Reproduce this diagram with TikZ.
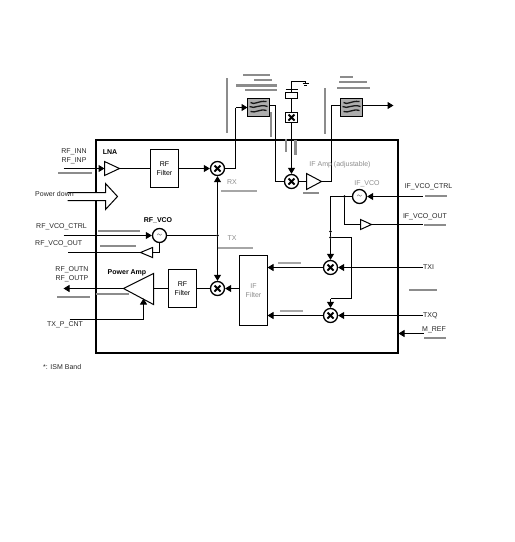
\documentclass[tikz,border=0pt]{standalone}
\usepackage{fontspec}
\setmainfont{Liberation Sans}
\usetikzlibrary{arrows.meta,calc}
\definecolor{barc}{gray}{0.55}
\definecolor{gtext}{gray}{0.55}
\newcommand{\gb}[4][barc]{\fill[#1] (#2,#4-1.2) rectangle (#3,#4+1.2);}
\newcommand{\gv}[4][barc]{\fill[#1] (#2-1.3,#3) rectangle (#2+1.3,#4);}
\tikzset{
 lw/.style={line width=1pt},
 wire/.style={lw,draw=black},
 arr/.style={wire,-{Triangle[length=6pt,width=7pt]}},
 lab/.style={inner sep=0pt,font=\fontsize{7}{8}\selectfont,text=black!85},
 blab/.style={lab,font=\fontsize{7}{8}\selectfont\bfseries,text=black},
 glab/.style={lab,text=gtext},
 filterbox/.style={draw,line width=1pt,fill=white,inner sep=0pt,outer sep=0pt,align=center,font=\fontsize{7}{9}\selectfont},
 mixer/.style={circle,draw,line width=1.3pt,fill=white,minimum size=14pt,inner sep=0pt,
  path picture={\draw[line width=1.8pt] ($(path picture bounding box.center)+(-3,-3)$) -- ($(path picture bounding box.center)+(3,3)$)
   ($(path picture bounding box.center)+(-3,3)$) -- ($(path picture bounding box.center)+(3,-3)$);}},
 vco/.style={circle,draw,line width=1.3pt,fill=white,minimum size=14pt,inner sep=0pt,font=\fontsize{6}{6}\selectfont},
 saw/.style={draw,line width=0.8pt,fill=black!32,minimum width=22pt,minimum height=18pt,inner sep=0pt,outer sep=0pt,
  path picture={\begin{scope}[shift={(path picture bounding box.center)}]
   \draw[line width=1.3pt,black!90] (-8,-5) .. controls (-4,-2) and (-1,-7) .. (8,-6);
   \draw[line width=1.3pt,black!90] (-9,-1) .. controls (-4,2) and (1,-4) .. (9,-1);
   \draw[line width=1.3pt,black!90] (-8,4) .. controls (-3,6) and (1,1) .. (8,3);
  \end{scope}}},
 dotn/.style={circle,fill=black,inner sep=0pt,minimum size=2.8pt},
}
\begin{document}
\begin{tikzpicture}[x=1pt,y=-1pt]
\useasboundingbox (0,0) rectangle (515,542);
\begin{scope}[shift={(0.5,0.5)}]
% main box
\coordinate (tl) at (95,139); \coordinate (br) at (397,352);
\coordinate (gapT) at (95,192); \coordinate (gapB) at (95,200);
\draw[line width=2pt] (gapT) -- (tl) -- (397,139) -- (br) -- (95,352) -- (gapB);
% elements
\node[filterbox,minimum width=28pt,minimum height=38pt] (rf1) at (164,168) {RF\\Filter};
\node[filterbox,minimum width=28pt,minimum height=38pt] (rf2) at (182,288) {RF\\Filter};
\node[filterbox,minimum width=28pt,minimum height=70pt,text=gtext] (iff) at (253,290) {IF\\Filter};
\node[mixer] (m1) at (217,168) {};
\node[mixer] (m2) at (217,288) {};
\node[mixer] (m3) at (291,181) {};
\node[mixer] (m4) at (330,267) {};
\node[mixer] (m5) at (330,315) {};
\node[vco] (v1) at (159,235) {$\sim$};
\node[vco] (v2) at (359,196) {$\sim$};
\node[saw] (s1) at (258,107) {};
\node[saw] (s2) at (351,107) {};
\node[draw,line width=1pt,fill=white,minimum width=12pt,minimum height=6pt,inner sep=0pt,outer sep=0pt] (xt) at (291,95) {};
\node[draw,line width=1pt,fill=white,minimum width=12pt,minimum height=10pt,inner sep=0pt,outer sep=0pt,
  path picture={\draw[line width=1.8pt] ($(path picture bounding box.center)+(-3,-3)$) -- ($(path picture bounding box.center)+(3,3)$)
   ($(path picture bounding box.center)+(-3,3)$) -- ($(path picture bounding box.center)+(3,-3)$);}] (xb) at (291,117) {};
% coordinates of the amplifiers
\coordinate (lnaB) at (104,168); \coordinate (lnaT) at (119,168);
\coordinate (ifaB) at (306,181); \coordinate (ifaT) at (321,181);
\coordinate (paB) at (153,288); \coordinate (paT) at (123,288);
\coordinate (ob1B) at (152,252); \coordinate (ob1T) at (140,252);
\coordinate (ob2B) at (360,224); \coordinate (ob2T) at (371,224);
% free ends
\coordinate (inL) at (63,168);
\coordinate (s2out) at (393,105);
\coordinate (vcoIn) at (63,235);
\coordinate (vcoOut) at (67,252);
\coordinate (paOut) at (63,288);
\coordinate (pcnt) at (69,319);
\coordinate (pcntT) at (143,298);
\coordinate (ivIn) at (422,196);
\coordinate (ivOut) at (422,224);
\coordinate (txi) at (422,267);
\coordinate (txq) at (422,315);
\coordinate (mref) at (423,333);
\coordinate (gnd) at (305,81);
\coordinate (br1) at (351,298);
\coordinate (br2) at (330,298);
\node[dotn] (d1) at (217,235) {};
\node[dotn] (d2) at (344,196) {};
\node[dotn] (d3) at (330,231) {};
\node[dotn] (d4) at (330,237) {};
% connectors
\draw[wire] (rf1.west) -- (lnaT);
\draw[arr] (rf1.east) -- (m1.west);
\draw[wire] (m1.east) -| (235,107);
\draw[arr] (235,107) -- (s1.west);
\draw[wire] (s1.east |- 0,105) -| (275,181) -- (m3.west);
\draw[wire] (m3.east) -- (ifaB);
\draw[wire] (ifaT) -| (331,105) -- (s2.west |- 0,105);
\draw[arr] (s2.east |- 0,105) -- (s2out);
\draw[wire] (xt.south) -- (xb.north);
\draw[arr] (xb.south) -- (m3.north);
\draw[wire] (xt.north) -- (291,81) -- (gnd) -- (305,83) (302,83) -- (308,83) (303.5,85) -- (306.5,85);
\draw[lw] (285,89) -- (297,89);
\draw[arr] (d1) -- (m1.south);
\draw[arr] (d1) -- (m2.north);
\draw[arr] (vcoIn) -- (v1.west);
\draw[wire] (v1.east) -- (d1);
\draw[wire] (v1.south) |- (ob1B);
\draw[wire] (ob1T) -- (vcoOut);
\draw[arr] (paT) -- (paOut);
\draw[wire] (paB) -- (rf2.west);
\draw[arr] (iff.west |- m2.east) -- (m2.east);
\draw[wire] (rf2.east) -- (m2.west);
\draw[arr] (m4.west) -- (iff.east |- m4.west);
\draw[arr] (m5.west) -- (iff.east |- m5.west);
\draw[arr] (txi) -- (m4.east);
\draw[arr] (txq) -- (m5.east);
\draw[arr] (ivIn) -- (v2.east);
\draw[wire] (v2.west) -| (d3);
\draw[wire] (d3) -- (d4);
\draw[arr] (d4) -- (m4.north);
\draw[wire] (d4) -| (br1) -- (br2);
\draw[arr] (br2) -- (m5.north);
\draw[wire] (d2) |- (ob2B);
\draw[wire] (ob2T) -- (ivOut);
\draw[arr] (mref) -- (398,333);
% amplifier triangles
\draw[lw,fill=white] (104,161) -- (lnaT) -- (104,175) -- cycle;
\draw[lw,fill=white] (306,173) -- (ifaT) -- (306,189) -- cycle;
\draw[lw,fill=white] (153,273) -- (paT) -- (153,304) -- cycle;
\draw[lw,fill=white] (152,247) -- (ob1T) -- (152,257) -- cycle;
\draw[lw,fill=white] (360,219) -- (ob2T) -- (360,229) -- cycle;
\draw[arr] (inL) -- (lnaB);
\draw[wire] (pcnt) -| (143,305);
\draw[arr] (143,305) -- (pcntT);
% power down hollow arrow
\draw[lw] (67,192) -- (105,192) -- (105,183) -- (117,196) -- (105,209) -- (105,200) -- (67,200);
\end{scope}
% gray bars (as printed)
\gb{243}{270}{75}\gb{254}{272}{80}\gb{236}{277}{85.5}\gb{245}{277}{90}
\gb{340}{353}{77}\gb{339}{367}{82}\gb{337}{370}{88}
\gv{227}{78}{133}\gv{325}{88}{134}\gv{271}{112}{137}
\gv{286}{139}{152}\gv{295.5}{140}{155}
\gb{303}{319}{193}
\gb{58}{92}{173}\gb{98}{140}{231}\gb{100}{136}{246}
\gb{57}{90}{297}\gb{96}{129}{294}
\gb[black!35]{221}{257}{191}\gb[black!35]{218}{253}{248}
\gb[black!35]{278}{301}{263}\gb[black!35]{280}{303}{311}
\gb{425}{447}{196}\gb{424}{446}{225}\gb{409}{437}{290}\gb{424}{446}{338}
% labels
\node[lab] (t1) at (74,152) {RF\_INN};
\node[lab] (t2) at (74,161) {RF\_INP};
\node[blab] (t3) at (110,152) {LNA};
\node[lab,anchor=west] (t4) at (35,194) {Power down};
\node[lab,anchor=west] (t5) at (36,227) {RF\_VCO\_CTRL};
\node[lab,anchor=west] (t6) at (35,244) {RF\_VCO\_OUT};
\node[blab] (t7) at (158,220) {RF\_VCO};
\node[lab] (t8) at (72,270) {RF\_OUTN};
\node[lab] (t9) at (72,279) {RF\_OUTP};
\node[blab] (t10) at (127,273) {Power Amp};
\node[lab] (t11) at (65,325) {TX\_P\_CNT};
\node[lab,anchor=west] (t12) at (43,367) {*: ISM Band};
\node[glab] (t13) at (232,182) {RX};
\node[glab] (t14) at (232,238) {TX};
\node[glab] (t15) at (340,165) {IF Amp (adjustable)};
\node[glab] (t16) at (367,184) {IF\_VCO};
\node[lab] (t17) at (428.5,187) {IF\_VCO\_CTRL};
\node[lab] (t18) at (425,217) {IF\_VCO\_OUT};
\node[lab,anchor=west] (t19) at (423,267) {TXI};
\node[lab,anchor=west] (t20) at (423,316) {TXQ};
\node[lab,anchor=west] (t21) at (422,330) {M\_REF};
\end{tikzpicture}
\end{document}
